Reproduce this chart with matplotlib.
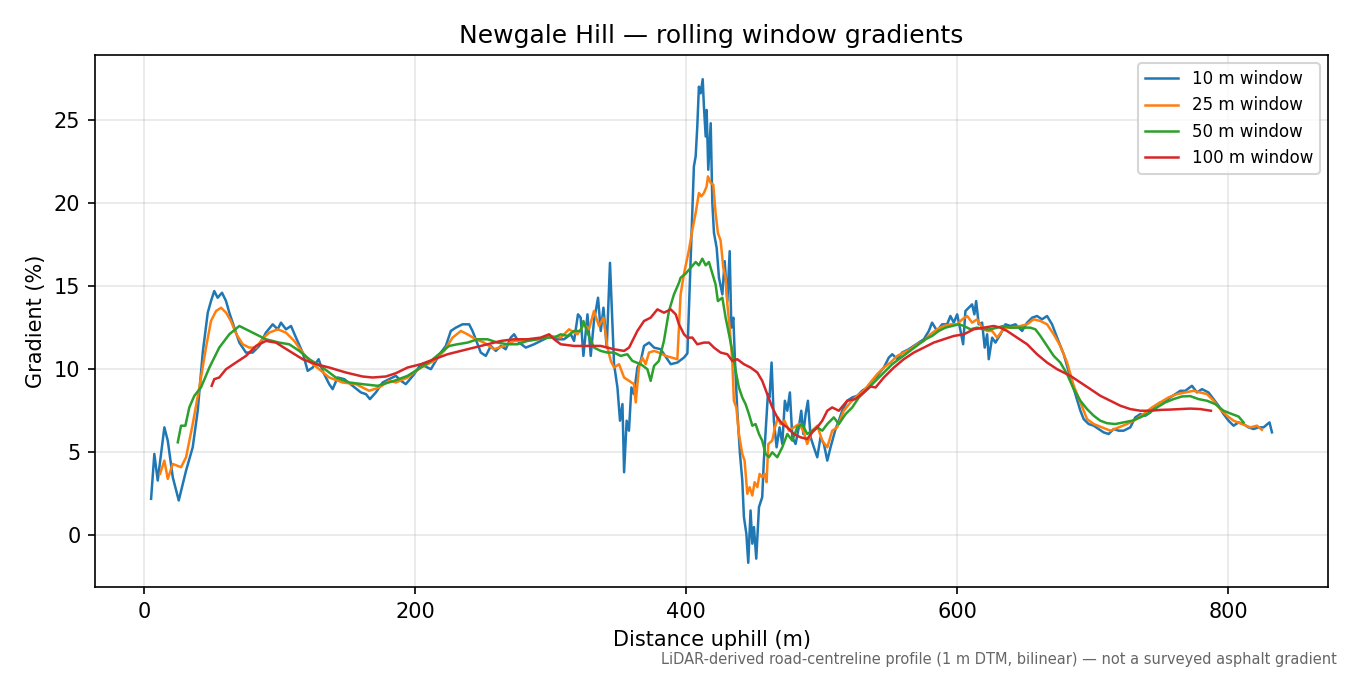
import numpy as np
import matplotlib
matplotlib.use("Agg")
import matplotlib.pyplot as plt

# ---- data (distance m, gradient %) ----
w10_x = [5.4, 7.8, 10.3, 15.2, 17.7, 21.4, 25.8, 31.2, 36.1, 39.8, 43.5, 47.2, 49.6, 52.0, 54.5, 57.7,
         60.7, 63.1, 66.8, 70.5, 75.4, 80.3, 85.2, 90.1, 95.1, 98.8, 101.2, 104.9, 108.6, 112.3, 117.2,
         120.9, 124.6, 129.0, 131.9, 136.8, 139.3, 143.0, 147.9, 154.0, 160.2, 163.9, 166.8, 171.2,
         176.2, 181.0, 186.0, 189.7, 193.3, 199.5, 204.4, 211.8, 215.4, 219.1, 222.8, 226.5, 230.2,
         235.1, 240.0, 242.5, 244.9, 248.6, 252.3, 256.0, 259.7, 263.4, 267.0, 270.7, 273.2, 276.9,
         281.8, 287.9, 295.3, 300.2, 305.1, 310.0, 315.0, 317.4, 320.3, 322.3, 324.3, 327.3, 329.7,
         332.1, 335.1, 337.1, 339.1, 341.5, 343.9, 346.9, 349.4, 351.3, 353.1, 354.3, 356.2, 357.9,
         359.7, 361.6, 364.1, 366.6, 369.0, 372.7, 376.4, 381.3, 386.2, 388.7, 393.6, 398.5, 401.0,
         403.4, 405.8, 407.1, 408.3, 409.5, 410.8, 412.3, 413.2, 414.5, 415.2, 416.4, 418.2, 419.4,
         420.6, 422.6, 424.3, 426.8, 428.5, 430.5, 432.2, 433.4, 434.9, 436.1, 437.8, 439.8, 441.5,
         442.7, 444.5, 445.9, 447.6, 448.9, 450.1, 451.8, 453.8, 456.2, 457.4, 458.9, 460.4, 461.6,
         463.1, 464.8, 466.8, 469.0, 471.0, 472.9, 474.7, 476.6, 478.4, 480.8, 483.2, 485.0, 486.5,
         488.2, 489.9, 491.9, 494.3, 496.8, 499.2, 501.7, 504.2, 506.6, 510.3, 512.7, 515.2, 518.9,
         522.6, 526.3, 529.9, 533.6, 537.3, 541.0, 545.9, 549.6, 552.1, 555.8, 559.4, 564.3, 568.0,
         571.7, 575.4, 579.1, 581.5, 585.2, 588.9, 592.6, 595.0, 597.5, 600.0, 602.5, 604.4, 606.1,
         608.6, 611.0, 612.7, 614.0, 615.9, 618.4, 620.3, 622.1, 623.3, 625.8, 628.2, 631.9, 635.6,
         639.3, 643.0, 647.9, 651.6, 655.3, 658.9, 662.6, 666.3, 670.0, 673.7, 678.6, 683.5, 687.2,
         690.9, 693.3, 697.0, 700.7, 704.4, 708.0, 711.7, 715.4, 719.1, 722.8, 727.7, 731.4, 735.1,
         738.8, 742.5, 746.1, 749.8, 753.5, 757.2, 760.9, 764.6, 768.3, 773.2, 776.9, 780.6, 785.4,
         789.1, 792.8, 796.5, 800.2, 803.9, 807.6, 811.2, 814.9, 818.6, 822.3, 826.0, 830.4, 832.2]
w10_y = [2.2, 4.9, 3.3, 6.5, 5.7, 3.5, 2.1, 3.9, 5.3, 7.5, 11.0, 13.4, 14.1, 14.7, 14.3, 14.6,
         14.1, 13.4, 12.5, 11.6, 11.0, 11.0, 11.4, 12.2, 12.7, 12.4, 12.8, 12.4, 12.6, 11.9, 11.0,
         9.9, 10.1, 10.6, 9.9, 9.1, 8.8, 9.5, 9.4, 9.0, 8.6, 8.5, 8.2, 8.6,
         9.2, 9.4, 9.6, 9.3, 9.1, 9.7, 10.3, 10.0, 10.5, 11.0, 11.4, 12.3, 12.5,
         12.7, 12.7, 12.3, 11.8, 11.0, 10.8, 11.4, 11.1, 11.4, 11.2, 11.9, 12.1, 11.6,
         11.3, 11.5, 11.8, 12.0, 11.8, 11.8, 12.1, 11.7, 13.3, 13.1, 10.8, 13.3, 10.8,
         12.9, 14.3, 12.3, 13.7, 11.3, 16.4, 10.3, 8.9, 6.9, 7.9, 3.8, 6.9, 6.3,
         8.9, 8.5, 10.1, 10.5, 11.4, 11.6, 11.3, 11.2, 10.6, 10.3, 10.4, 10.7, 10.95,
         16.5, 22.2, 22.8, 24.6, 27.0, 26.6, 27.45, 25.8, 24.0, 25.6, 22.0, 24.8, 20.0,
         18.2, 17.3, 15.5, 14.5, 16.5, 14.1, 17.1, 12.5, 13.1, 10.5, 7.5, 4.9, 3.3,
         1.1, 0.1, -1.65, 1.5, -0.5, 0.5, -1.4, 1.7, 2.3, 4.5, 6.5, 8.5, 8.3,
         10.4, 6.9, 5.3, 6.5, 5.5, 8.1, 7.5, 8.6, 5.9, 5.5, 6.5, 7.5, 6.1,
         7.3, 8.1, 5.9, 5.3, 4.7, 5.9, 5.5, 4.5, 5.3, 6.4, 6.9, 7.5, 8.1,
         8.3, 8.4, 8.7, 8.9, 9.3, 9.6, 10.1, 10.7, 10.9, 10.6, 11.0, 11.2, 11.4,
         11.6, 11.8, 12.3, 12.8, 12.3, 12.7, 12.7, 13.2, 12.8, 13.3, 12.3, 11.5, 13.5,
         13.7, 13.9, 13.3, 14.1, 12.7, 12.8, 11.3, 12.1, 10.6, 11.9, 11.6, 12.1, 12.7,
         12.6, 12.7, 12.3, 12.8, 13.1, 13.2, 13.0, 13.2, 12.7, 11.9, 10.9, 9.5, 8.5,
         7.5, 7.0, 6.7, 6.6, 6.4, 6.2, 6.1, 6.4, 6.3, 6.3, 6.5, 7.1, 7.3,
         7.2, 7.4, 7.8, 8.0, 8.1, 8.3, 8.5, 8.7, 8.7, 9.0, 8.6, 8.8, 8.6,
         8.2, 7.8, 7.3, 6.9, 6.6, 6.8, 6.7, 6.5, 6.4, 6.5, 6.5, 6.8, 6.2]

w25_x = [12.0, 15.2, 17.7, 21.4, 27.5, 31.2, 36.1, 41.0, 45.9, 49.6, 53.3, 57.0, 60.7, 64.3, 68.0,
         73.0, 77.8, 82.8, 87.7, 92.6, 98.8, 104.9, 111.0, 117.2, 123.3, 129.4, 136.8, 146.7, 156.5,
         166.3, 173.7, 181.0, 186.0, 194.6, 204.4, 214.2, 221.6, 227.8, 233.9, 238.8, 244.9, 251.0,
         258.4, 265.8, 273.2, 280.5, 290.4, 300.2, 307.6, 313.7, 319.9, 324.8, 328.4, 332.1, 335.8,
         339.1, 342.0, 344.5, 346.9, 350.6, 354.3, 358.0, 361.6, 362.9, 365.3, 367.8, 370.2, 372.7,
         376.4, 380.0, 385.0, 393.6, 396.0, 398.5, 402.1, 404.7, 407.1, 409.5, 411.3, 413.2, 415.2,
         416.2, 418.2, 420.1, 421.8, 423.5, 425.5, 427.5, 429.2, 430.5, 432.2, 434.1, 435.3, 437.1,
         439.0, 441.5, 443.2, 445.2, 446.9, 448.9, 450.6, 452.6, 454.3, 456.2, 458.0, 459.4, 460.7,
         463.6, 465.6, 467.8, 469.7, 472.7, 475.9, 479.5, 483.2, 486.5, 489.4, 493.1, 496.8, 500.5,
         504.2, 507.8, 511.5, 516.4, 521.3, 526.3, 531.1, 536.1, 541.0, 545.9, 550.8, 555.8, 560.6,
         565.6, 570.5, 575.4, 580.3, 585.2, 590.1, 595.0, 600.0, 603.7, 607.4, 611.0, 614.7, 618.4,
         622.1, 625.8, 629.5, 633.1, 636.8, 641.7, 646.6, 651.6, 656.4, 661.4, 666.3, 671.2, 676.1,
         681.1, 686.0, 690.9, 695.8, 700.7, 706.9, 713.0, 719.1, 725.3, 731.4, 737.5, 743.7, 749.8,
         755.9, 762.1, 768.3, 774.4, 779.3, 784.3, 789.1, 794.0, 799.0, 803.9, 810.1, 816.2, 821.1,
         824.8]
w25_y = [3.7, 4.5, 3.4, 4.3, 4.1, 4.7, 6.7, 8.9, 11.3, 12.9, 13.5, 13.7, 13.4, 12.9, 12.15,
         11.5, 11.3, 11.3, 11.85, 12.2, 12.4, 12.2, 11.7, 11.0, 10.4, 10.0, 9.5, 9.2, 9.1,
         8.7, 8.9, 9.3, 9.2, 9.5, 10.1, 10.5, 11.1, 11.9, 12.3, 12.1, 11.8, 11.6,
         11.2, 11.4, 11.7, 11.7, 11.8, 12.0, 11.9, 12.4, 12.1, 12.7, 12.4, 13.5, 12.6,
         13.1, 11.3, 10.5, 10.1, 10.3, 9.5, 9.3, 9.1, 8.0, 10.1, 10.7, 10.3, 11.0,
         11.1, 11.0, 10.8, 10.6, 14.5, 15.75, 17.15, 18.4, 19.4, 20.6, 20.4, 20.6, 21.0,
         21.6, 21.2, 21.1, 19.4, 18.2, 17.75, 16.1, 15.5, 13.9, 12.5, 10.5, 8.1, 7.7,
         6.1, 4.9, 4.5, 2.5, 2.9, 2.4, 3.2, 2.9, 3.7, 3.5, 3.7, 3.2, 5.5,
         5.7, 6.5, 7.1, 6.7, 6.9, 6.3, 6.5, 6.7, 6.3, 5.5, 6.3, 6.6, 5.7,
         5.3, 6.3, 6.5, 7.5, 8.0, 8.4, 8.7, 9.2, 9.7, 10.1, 10.4, 10.8, 11.0,
         11.2, 11.5, 11.7, 12.1, 12.4, 12.6, 12.7, 12.7, 13.0, 13.2, 12.8, 13.0, 12.5,
         12.3, 12.3, 11.9, 12.3, 12.5, 12.5, 12.6, 12.7, 13.0, 12.9, 12.7, 12.1, 11.4,
         10.4, 9.0, 8.0, 7.0, 6.7, 6.5, 6.3, 6.5, 6.7, 6.95, 7.3, 7.7, 8.0,
         8.3, 8.5, 8.6, 8.7, 8.6, 8.5, 8.1, 7.6, 7.2, 6.9, 6.7, 6.5, 6.6,
         6.35]

w50_x = [25.1, 27.5, 30.7, 33.6, 37.3, 42.2, 48.4, 55.7, 63.1, 70.5, 80.3, 90.1, 99.9, 107.3, 114.7,
         122.1, 131.9, 141.7, 151.5, 161.4, 172.5, 184.7, 194.6, 204.4, 211.8, 219.1, 225.3, 231.4,
         238.8, 246.2, 253.6, 260.9, 268.3, 275.7, 283.0, 290.4, 297.8, 302.7, 307.6, 312.5, 317.4,
         322.3, 324.3, 327.3, 332.1, 337.1, 342.0, 346.9, 351.8, 356.7, 360.4, 366.6, 371.5, 373.9,
         376.4, 380.0, 383.7, 387.4, 391.1, 394.8, 396.0, 399.7, 403.4, 407.1, 409.5, 412.0, 414.5,
         416.9, 419.4, 421.8, 423.5, 426.8, 429.2, 431.7, 434.1, 436.6, 439.0, 441.5, 443.9, 446.4,
         448.9, 451.3, 453.8, 456.2, 458.7, 461.1, 463.6, 467.3, 471.0, 474.7, 478.4, 482.0, 485.7,
         489.4, 493.1, 496.8, 500.5, 504.2, 509.0, 512.7, 517.7, 522.6, 527.5, 532.4, 537.3, 542.2,
         547.1, 552.1, 557.0, 561.9, 566.8, 571.7, 576.6, 581.5, 586.4, 591.4, 596.3, 601.2, 604.9,
         609.8, 614.7, 619.6, 624.5, 629.5, 634.3, 639.3, 644.2, 649.1, 654.0, 657.7, 661.4, 666.3,
         671.2, 676.1, 681.1, 686.0, 690.9, 695.8, 700.7, 705.6, 710.5, 716.6, 722.8, 729.0, 735.1,
         741.2, 747.4, 753.5, 759.6, 765.8, 771.9, 778.1, 784.3, 790.4, 796.5, 802.7, 807.6, 811.2]
w50_y = [5.6, 6.6, 6.6, 7.7, 8.4, 8.9, 10.1, 11.3, 12.1, 12.6, 12.2, 11.8, 11.6, 11.5, 11.1,
         10.6, 10.1, 9.5, 9.2, 9.1, 9.0, 9.3, 9.6, 10.1, 10.5, 11.0, 11.4, 11.5,
         11.6, 11.8, 11.8, 11.6, 11.5, 11.5, 11.7, 11.8, 11.9, 11.9, 12.1, 12.0, 12.3,
         12.3, 12.9, 12.2, 11.3, 11.1, 11.0, 11.0, 10.8, 10.9, 10.5, 10.3, 10.0, 9.3,
         10.2, 10.5, 11.7, 13.5, 14.5, 15.2, 15.5, 15.75, 16.1, 16.45, 16.25, 16.65, 16.25,
         16.45, 15.75, 15.1, 14.1, 14.3, 13.1, 12.1, 11.1, 9.9, 8.9, 8.3, 7.9, 7.3,
         6.6, 6.7, 6.1, 5.7, 4.9, 4.7, 5.0, 4.7, 5.3, 6.1, 5.7, 6.5, 6.7,
         6.1, 6.3, 6.5, 6.3, 6.7, 7.1, 6.7, 7.3, 7.7, 8.3, 8.7, 9.1, 9.5,
         9.9, 10.3, 10.6, 10.9, 11.2, 11.5, 11.8, 12.0, 12.3, 12.5, 12.6, 12.7, 12.6,
         12.4, 12.5, 12.4, 12.4, 12.5, 12.6, 12.5, 12.5, 12.5, 12.5, 12.4, 12.0, 11.4,
         10.8, 10.4, 9.7, 8.8, 8.1, 7.6, 7.2, 6.9, 6.75, 6.7, 6.8, 6.9, 7.1,
         7.35, 7.7, 8.0, 8.2, 8.36, 8.38, 8.2, 8.1, 7.9, 7.5, 7.3, 7.15, 6.8]

w100_x = [50.1, 52.0, 55.7, 60.7, 68.0, 75.4, 82.8, 90.1, 97.5, 107.3, 117.2, 127.0, 136.8, 149.1,
          161.4, 168.8, 178.6, 186.0, 194.6, 204.4, 214.2, 224.1, 233.9, 243.7, 253.6, 263.4, 273.2,
          283.0, 292.8, 299.0, 302.7, 307.6, 317.4, 327.3, 337.1, 346.9, 354.3, 358.0, 364.1, 369.0,
          373.9, 378.9, 383.7, 388.7, 392.4, 394.8, 398.5, 401.0, 404.7, 408.3, 413.2, 416.9, 420.6,
          425.5, 430.5, 434.1, 437.8, 442.7, 447.6, 452.6, 456.2, 459.9, 463.6, 467.3, 471.0, 474.7,
          479.5, 484.5, 489.4, 493.1, 496.8, 500.5, 504.2, 507.8, 512.7, 518.9, 525.0, 531.1, 536.1,
          539.8, 545.9, 553.3, 560.6, 568.0, 575.4, 582.7, 590.1, 597.5, 604.9, 612.2, 619.6, 627.0,
          631.9, 636.8, 644.2, 651.6, 658.9, 666.3, 673.7, 683.5, 690.9, 698.3, 705.6, 713.0, 720.4,
          727.7, 735.1, 742.5, 749.8, 757.2, 764.6, 772.0, 779.3, 787.2]
w100_y = [9.0, 9.4, 9.5, 10.0, 10.4, 10.8, 11.4, 11.7, 11.6, 11.1, 10.6, 10.3, 10.1, 9.8,
          9.56, 9.5, 9.56, 9.76, 10.1, 10.3, 10.6, 10.9, 11.1, 11.3, 11.5, 11.7, 11.8,
          11.8, 11.9, 12.1, 11.8, 11.5, 11.4, 11.4, 11.4, 11.2, 11.1, 11.3, 12.3, 12.9,
          13.1, 13.6, 13.4, 13.6, 13.3, 12.7, 12.1, 11.9, 11.9, 11.5, 11.6, 11.6, 11.3,
          11.0, 10.9, 10.5, 10.6, 10.3, 10.1, 9.8, 9.3, 8.5, 7.7, 7.1, 6.7, 6.5,
          6.1, 5.9, 5.8, 6.2, 6.5, 6.9, 7.5, 7.7, 7.5, 8.1, 8.2, 8.6, 8.96,
          8.9, 9.5, 10.1, 10.6, 11.0, 11.3, 11.6, 11.8, 12.0, 12.1, 12.4, 12.5, 12.6,
          12.5, 12.3, 11.9, 11.5, 10.9, 10.4, 10.0, 9.6, 9.2, 8.8, 8.4, 8.1, 7.8,
          7.6, 7.5, 7.5, 7.55, 7.57, 7.6, 7.63, 7.6, 7.5]

series = [(w10_x, w10_y, "10 m window"),
          (w25_x, w25_y, "25 m window"),
          (w50_x, w50_y, "50 m window"),
          (w100_x, w100_y, "100 m window")]

fig, ax = plt.subplots(figsize=(9, 4.5), dpi=150)
fig.subplots_adjust(left=0.0704, right=0.9837, top=0.9185, bottom=0.1304)

for xs, ys, lab in series:
    ax.plot(xs, ys, lw=1.2, label=lab)

ax.set_title("Newgale Hill — rolling window gradients")
ax.set_xlabel("Distance uphill (m)")
ax.set_ylabel("Gradient (%)")
ax.grid(True, alpha=0.3)
ax.legend(loc="upper right", fontsize=8)

fig.text(0.99, 0.012,
         "LiDAR-derived road-centreline profile (1 m DTM, bilinear) — not a surveyed asphalt gradient",
         ha="right", va="bottom", fontsize=7, color="#666666")

fig.savefig("out.png")
